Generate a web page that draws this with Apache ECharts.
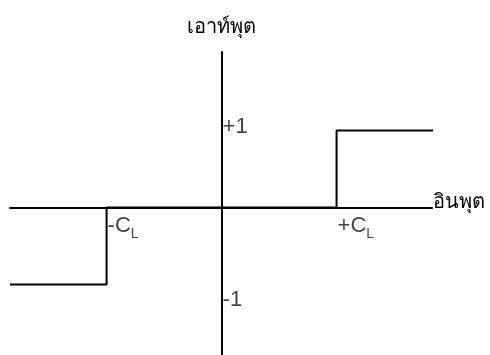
<!DOCTYPE html>
<html>
<head>
<meta charset="utf-8">
<script src="https://cdn.jsdelivr.net/npm/echarts@6/dist/echarts.min.js"></script>
<style>
  html, body { margin: 0; padding: 0; background: #fff; }
  #chart { width: 490px; height: 355px; }
</style>
</head>
<body>
<div id="chart"></div>
<script>
// Ideal relay (on/off) characteristic: output vs input, switching at ±C_L
const inputs = [-1.84, -1, -1, 1, 1, 1.845];
const outputs = [-1, -1, 0, 0, 1, 1];

// Annotation positions (in data units) and their texts
const markerX = [0, 0, -1, 1];
const markerY = [1, -1, 0, 0];
const markerText = ['+1', '-1', '-{s|C}{sub|L}', '+{s|C}{sub|L}'];
const markerOffset = [[0, -4], [0, 15], [0, 18], [0, 18]];

const xTitle = 'อินพุต';
const yTitle = 'เอาท์พุต';

const FONT = "'Liberation Sans', Arial, sans-serif";

const chart = echarts.init(document.getElementById('chart'), null, { renderer: 'canvas' });

const markers = markerX.map((x, i) => ({
  value: [x, markerY[i]],
  label: { formatter: markerText[i], offset: markerOffset[i] }
}));

chart.setOption({
  animation: false,
  backgroundColor: '#ffffff',
  grid: { left: 10, right: 58, top: 52, bottom: 0, containLabel: false },
  xAxis: {
    type: 'value',
    min: -1.84,
    max: 1.83,
    name: xTitle,
    nameLocation: 'end',
    nameGap: 1,
    nameTextStyle: { color: '#000', fontSize: 20, fontFamily: FONT, align: 'left', verticalAlign: 'bottom', padding: [0, 0, -5, 0] },
    axisLine: { onZero: true, lineStyle: { color: '#000', width: 2 } },
    axisTick: { show: false },
    axisLabel: { show: false },
    splitLine: { show: false }
  },
  yAxis: {
    type: 'value',
    min: -1.915,
    max: 2.02,
    name: yTitle,
    nameLocation: 'end',
    nameGap: 15,
    nameTextStyle: { color: '#000', fontSize: 20, fontFamily: FONT, align: 'center' },
    axisLine: { onZero: true, lineStyle: { color: '#000', width: 2 } },
    axisTick: { show: false },
    axisLabel: { show: false },
    splitLine: { show: false }
  },
  series: [
    {
      type: 'line',
      data: inputs.map((x, i) => [x, outputs[i]]),
      symbol: 'none',
      lineStyle: { color: '#000', width: 2 },
      silent: true
    },
    {
      type: 'scatter',
      data: markers,
      symbolSize: 0,
      silent: true,
      label: {
        show: true,
        position: 'right',
        distance: 1,
        color: '#111',
        fontSize: 22,
        fontFamily: FONT,
        lineHeight: 32,
        rich: {
          s: { fontSize: 22, fontFamily: FONT, color: '#111', lineHeight: 32 },
          sub: { fontSize: 14, fontFamily: FONT, color: '#111', lineHeight: 14, verticalAlign: 'bottom' }
        }
      }
    }
  ]
});
</script>
</body>
</html>
